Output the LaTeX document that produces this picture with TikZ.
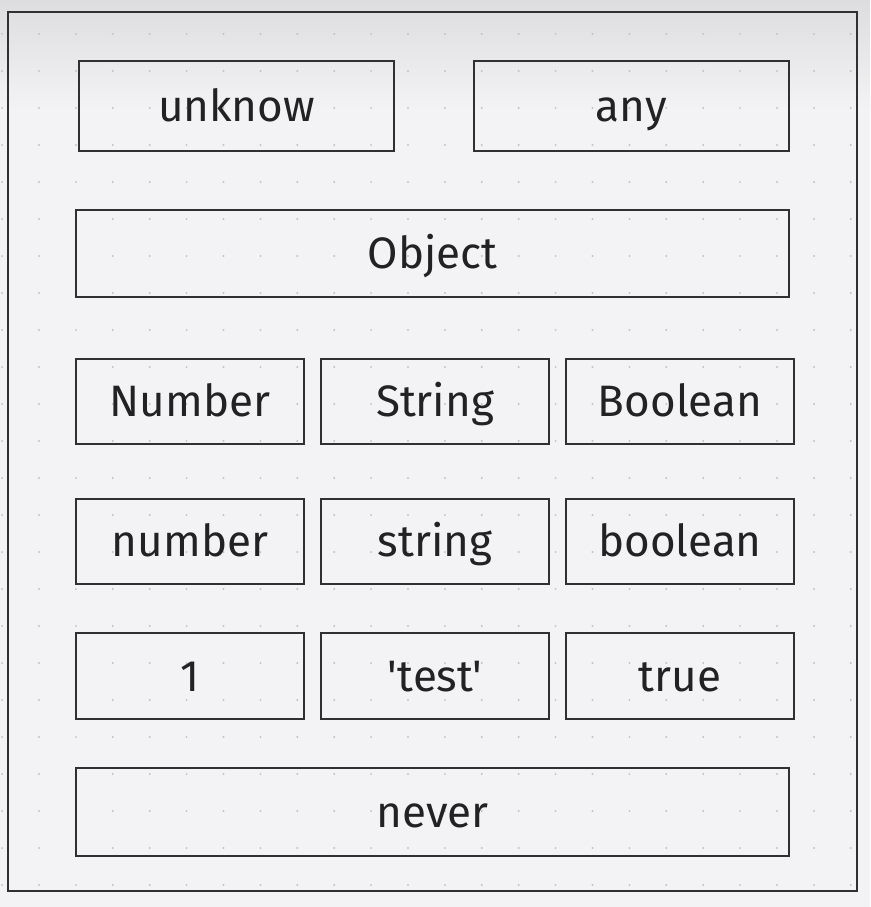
\documentclass[tikz,border=0pt]{standalone}
\usepackage{fontspec}
\setmainfont{Fira Sans}[Ligatures=TeXOff]
\definecolor{bgc}{HTML}{F3F3F5}
\definecolor{topc}{HTML}{DDDDE0}
\definecolor{linec}{HTML}{303030}
\definecolor{textc}{HTML}{222222}
\definecolor{dotc}{HTML}{C4C4C8}
\tikzset{
  typebox/.style={draw=linec, line width=2.2pt, rectangle, inner sep=0pt, text=textc,
    font=\fontsize{44}{50}\selectfont, text height=30.5pt, text depth=0pt},
  frame/.style={draw=linec, line width=2.2pt}
}
\begin{document}
\begin{tikzpicture}[x=1pt,y=-1pt]
\useasboundingbox (0,0) rectangle (870,907);
\fill[bgc] (0,0) rectangle (870,907);
\shade[top color=topc, bottom color=bgc] (0,0) rectangle (870,110);
\foreach \i in {0,...,23}{
  \foreach \j in {0,...,23}{
    \fill[dotc] ({2.1+36.9*\i},{34+37*\j}) circle (1.1pt);
  }
}
\draw[frame] (8,12) rectangle (857,891);
% row 1
\node[typebox, minimum width=315pt, minimum height=90pt] (unknow) at (236.5,106) {unknow};
\node[typebox, minimum width=315pt, minimum height=90pt] (any) at (631.5,106) {any};
% row 2
\node[typebox, minimum width=713pt, minimum height=87pt] (object) at (432.5,253.5) {Object};
% row 3
\node[typebox, minimum width=228pt, minimum height=85pt] (NumberT) at (190,401.5) {Number};
\node[typebox, minimum width=228pt, minimum height=85pt] (StringT) at (435,401.5) {String};
\node[typebox, minimum width=228pt, minimum height=85pt] (BooleanT) at (680,401.5) {Boolean};
% row 4
\node[typebox, minimum width=228pt, minimum height=85pt] (numbert) at (190,541.5) {number};
\node[typebox, minimum width=228pt, minimum height=85pt] (stringt) at (435,541.5) {string};
\node[typebox, minimum width=228pt, minimum height=85pt] (booleant) at (680,541.5) {boolean};
% row 5
\node[typebox, minimum width=228pt, minimum height=86pt] (one) at (190,676) {1};
\node[typebox, minimum width=228pt, minimum height=86pt] (test) at (435,676) {'test'};
\node[typebox, minimum width=228pt, minimum height=86pt] (true) at (680,676) {true};
% row 6
\node[typebox, minimum width=713pt, minimum height=88pt] (never) at (432.5,812) {never};
\end{tikzpicture}
\end{document}
